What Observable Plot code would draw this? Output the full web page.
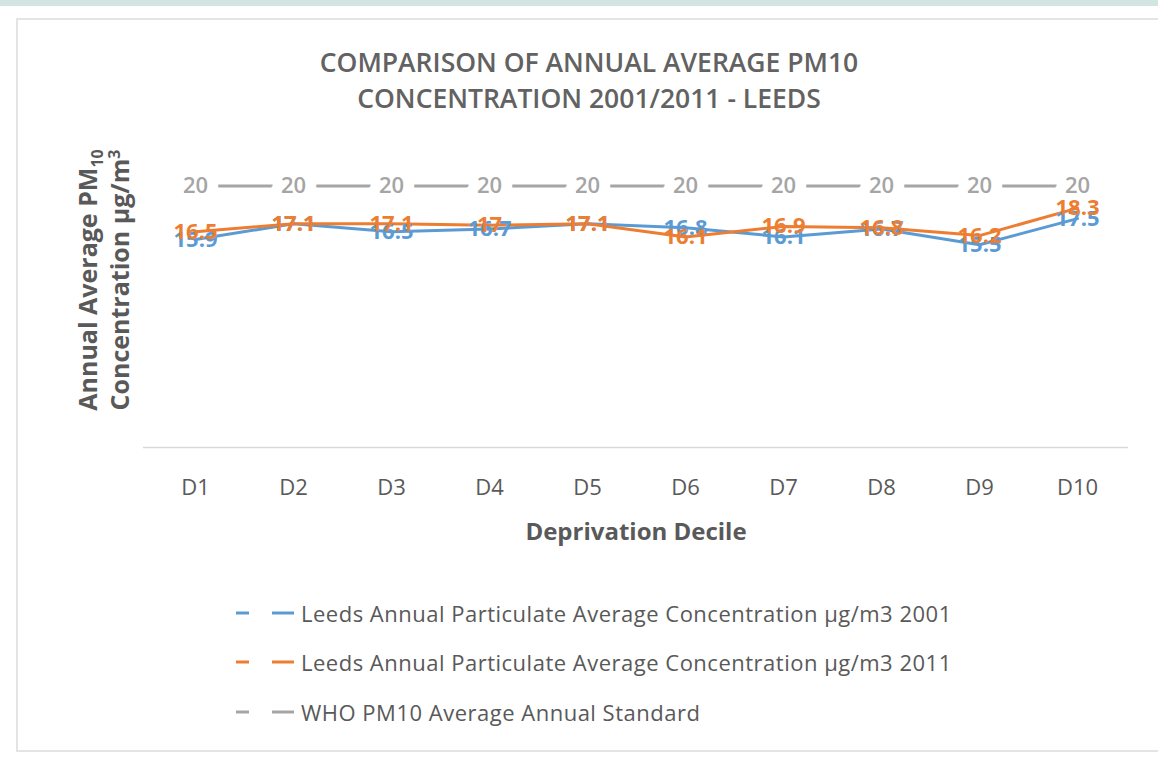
<!DOCTYPE html>
<html>
<head>
<meta charset="utf-8">
<script src="https://cdn.jsdelivr.net/npm/d3@7"></script>
<script src="https://cdn.jsdelivr.net/npm/@observablehq/plot@0.6"></script>
<style>
  html, body { margin: 0; padding: 0; background: #fff; }
  body { width: 1158px; height: 765px; position: relative; overflow: hidden; font-family: "Open Sans", sans-serif; color: #595959; }
  #strip { position: absolute; left: 0; top: 0; width: 1158px; height: 6px; background: #d3e5e3; }
  #frame { position: absolute; left: 16px; top: 18px; width: 1160px; height: 734px; border: 2px solid #e4e4e4; border-right: none; box-sizing: border-box; }
  #title { position: absolute; left: 0; width: 1178px; top: 44px; text-align: center; font-size: 26.5px; font-weight: 600; line-height: 36px; color: #626262; letter-spacing: 0px; }
  #chart { position: absolute; left: 0; top: 100px; }
  #ylabel { position: absolute; width: 360px; height: 66px; left: -76px; top: 247px; transform: rotate(-90deg); transform-origin: 180px 33px; text-align: center; font-size: 25px; font-weight: 700; line-height: 32px; color: #595959; white-space: nowrap; }
  #ylabel sub, #ylabel sup { font-size: 16px; line-height: 0; }
  #legend { position: absolute; left: 236px; top: 588px; }
  .lg { display: flex; align-items: center; height: 49.5px; font-size: 22px; color: #595959; letter-spacing: 0.5px; white-space: nowrap; }
  .lg svg { margin-right: 5px; }
</style>
</head>
<body>
<div id="strip"></div>
<div id="frame"></div>
<div id="title">COMPARISON OF ANNUAL AVERAGE PM10<br>CONCENTRATION 2001/2011 - LEEDS</div>
<div id="chart"></div>
<div id="ylabel">Annual Average PM<sub>10</sub><br>Concentration µg/m<sup>3</sup></div>
<div id="legend"></div>
<script>
const deciles = ["D1","D2","D3","D4","D5","D6","D7","D8","D9","D10"];
const leeds2001 = [15.9, 17.1, 16.5, 16.7, 17.1, 16.8, 16.1, 16.7, 15.5, 17.5];
const leeds2011 = [16.5, 17.1, 17.1, 17.0, 17.1, 16.1, 16.9, 16.8, 16.2, 18.3];
const whoStandard = [20, 20, 20, 20, 20, 20, 20, 20, 20, 20];
const seriesNames = [
  "Leeds Annual Particulate Average Concentration µg/m3 2001",
  "Leeds Annual Particulate Average Concentration µg/m3 2011",
  "WHO PM10 Average Annual Standard"
];
const seriesColors = ["#5B9BD5", "#ED7D31", "#A5A5A5"];
const seriesValues = [leeds2001, leeds2011, whoStandard];

const rows = [];
seriesValues.forEach((vals, si) => {
  vals.forEach((v, i) => rows.push({decile: deciles[i], value: v, series: seriesNames[si]}));
});
const rows2001 = rows.filter(d => d.series === seriesNames[0]);
const rows2011 = rows.filter(d => d.series === seriesNames[1]);
const whoRows = rows.filter(d => d.series === seriesNames[2]);

const chart = Plot.plot({
  width: 1158,
  height: 460,
  marginLeft: 143,
  marginRight: 30,
  marginTop: 20,
  marginBottom: 113,
  style: { fontFamily: "Open Sans, sans-serif", background: "transparent", color: "#595959", overflow: "visible" },
  x: { type: "point", domain: deciles, padding: 0.5 },
  y: { domain: [0, 25], axis: null },
  color: { domain: seriesNames, range: seriesColors },
  marks: [
    Plot.ruleY([0], { stroke: "#d9d9d9", strokeWidth: 1.5 }),
    Plot.lineY(rows, { x: "decile", y: "value", z: "series", stroke: "series", strokeWidth: 3 }),
    Plot.text(whoRows, { x: "decile", y: "value", text: d => String(d.value), fill: "series", stroke: "white", strokeWidth: 22, fontSize: 22, fontWeight: 600 }),
    Plot.text(rows2001, { x: "decile", y: "value", text: d => String(d.value), fill: "series", fontSize: 22, fontWeight: "bold" }),
    Plot.text(rows2011, { x: "decile", y: "value", text: d => String(d.value), fill: "series", fontSize: 22, fontWeight: "bold" }),
    Plot.axisX({ tickSize: 0, tickPadding: 32, fontSize: 22, label: null, fill: "#595959" }),
    Plot.text(["Deprivation Decile"], { frameAnchor: "bottom", dy: 92, fontSize: 24, fontWeight: "bold", fill: "#595959" })
  ]
});
document.getElementById("chart").appendChild(chart);

const legend = document.getElementById("legend");
seriesNames.forEach((name, i) => {
  const row = document.createElement("div");
  row.className = "lg";
  row.innerHTML = `<svg width="60" height="10"><line x1="0" x2="13" y1="5" y2="5" stroke="${seriesColors[i]}" stroke-width="3"/><line x1="36" x2="58" y1="5" y2="5" stroke="${seriesColors[i]}" stroke-width="3"/></svg><span>${name}</span>`;
  legend.appendChild(row);
});
</script>
</body>
</html>
